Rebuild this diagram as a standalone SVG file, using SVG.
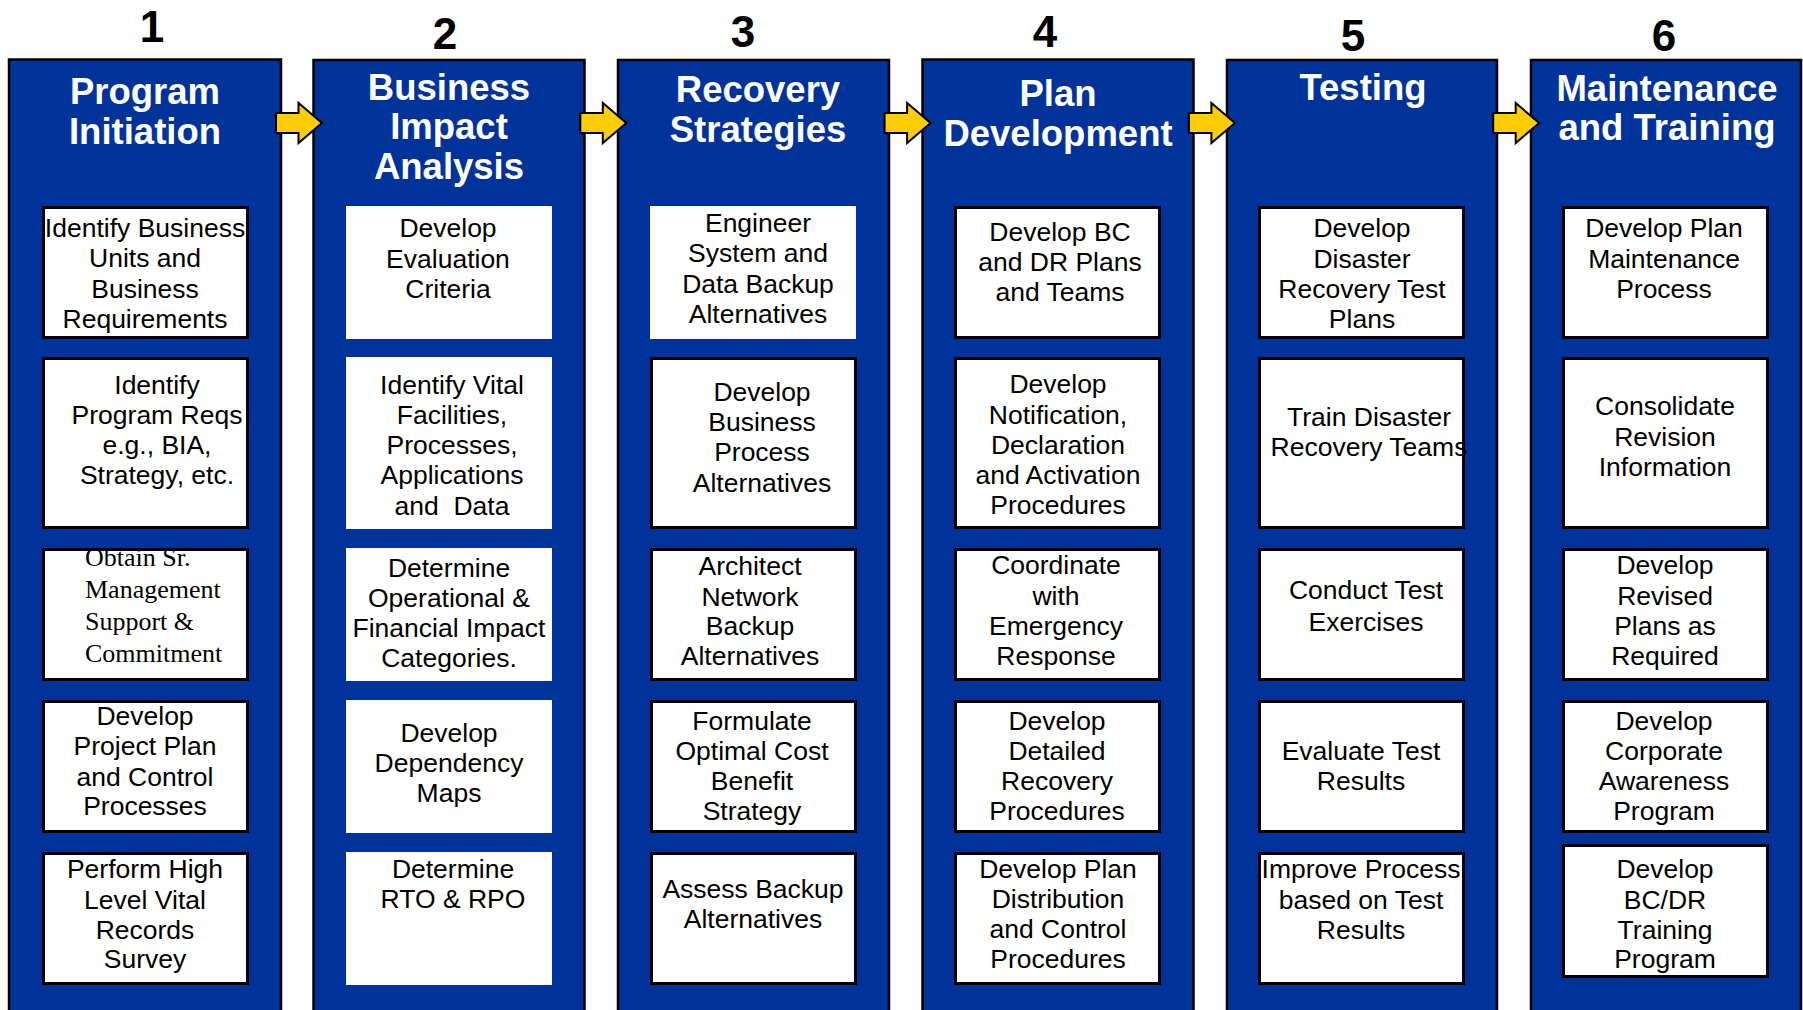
<svg xmlns="http://www.w3.org/2000/svg" width="1803" height="1010" viewBox="0 0 1803 1010">
<style>
.col{fill:#003399;stroke:#000;stroke-width:2.5}
.box{fill:#fff;stroke:#000;stroke-width:3}
.boxn{fill:#fff;stroke:none}
.num{font-family:"Liberation Sans",Arial,sans-serif;font-weight:bold;font-size:44px;fill:#000;text-anchor:middle}
.ttl{font-family:"Liberation Sans",Arial,sans-serif;font-weight:bold;font-size:36.5px;fill:#fff;text-anchor:middle}
.t{font-family:"Liberation Sans",Arial,sans-serif;font-size:26.5px;fill:#000;text-anchor:middle}
.ts{font-family:"Liberation Serif","Times New Roman",serif;font-size:26px;fill:#000}
.arr{fill:#FFCC00;stroke:#000;stroke-width:2;stroke-linejoin:miter}
</style>
<rect width="1803" height="1010" fill="#fff"/>

<g id="col1">
<text class="num" x="152" y="42">1</text>
<rect class="col" x="9" y="59.5" width="272" height="970"/>
<text class="ttl" x="145" y="104">Program</text>
<text class="ttl" x="145" y="144">Initiation</text>
<g id="c1b1"><rect class="box" x="43.5" y="207.5" width="204" height="130"/>
<text class="t" x="145" y="237">Identify Business</text><text class="t" x="145" y="267">Units and</text><text class="t" x="145" y="298">Business</text><text class="t" x="145" y="328">Requirements</text></g>
<g id="c1b2"><rect class="box" x="43.5" y="358.5" width="204" height="169"/>
<text class="t" x="157" y="394">Identify</text><text class="t" x="157" y="424">Program Reqs</text><text class="t" x="157" y="454">e.g., BIA,</text><text class="t" x="157" y="484">Strategy, etc.</text></g>
<g id="c1b3"><rect class="box" x="43.5" y="549.5" width="204" height="130"/>
<text class="ts" x="85" y="566">Obtain Sr.</text><text class="ts" x="85" y="598">Management</text><text class="ts" x="85" y="630">Support &amp;</text><text class="ts" x="85" y="662">Commitment</text></g>
<g id="c1b4"><rect class="box" x="43.5" y="701.5" width="204" height="130"/>
<text class="t" x="145" y="725">Develop</text><text class="t" x="145" y="755">Project Plan</text><text class="t" x="145" y="786">and Control</text><text class="t" x="145" y="815">Processes</text></g>
<g id="c1b5"><rect class="box" x="43.5" y="853.5" width="204" height="130"/>
<text class="t" x="145" y="878">Perform High</text><text class="t" x="145" y="909">Level Vital</text><text class="t" x="145" y="939">Records</text><text class="t" x="145" y="968">Survey</text></g>
</g>

<g id="col2">
<text class="num" x="445" y="49">2</text>
<rect class="col" x="313.5" y="60" width="271" height="970"/>
<text class="ttl" x="449" y="100">Business</text>
<text class="ttl" x="449" y="139">Impact</text>
<text class="ttl" x="449" y="179">Analysis</text>
<g id="c2b1"><rect class="boxn" x="346" y="206" width="206" height="133"/>
<text class="t" x="448" y="237">Develop</text><text class="t" x="448" y="268">Evaluation</text><text class="t" x="448" y="298">Criteria</text></g>
<g id="c2b2"><rect class="boxn" x="346" y="357" width="206" height="172"/>
<text class="t" x="452" y="394">Identify Vital</text><text class="t" x="452" y="424">Facilities,</text><text class="t" x="452" y="454">Processes,</text><text class="t" x="452" y="484">Applications</text><text class="t" x="452" y="515" xml:space="preserve">and  Data</text></g>
<g id="c2b3"><rect class="boxn" x="346" y="548" width="206" height="133"/>
<text class="t" x="449" y="577">Determine</text><text class="t" x="449" y="607">Operational &amp;</text><text class="t" x="449" y="637">Financial Impact</text><text class="t" x="449" y="667">Categories.</text></g>
<g id="c2b4"><rect class="boxn" x="346" y="700" width="206" height="133"/>
<text class="t" x="449" y="742">Develop</text><text class="t" x="449" y="772">Dependency</text><text class="t" x="449" y="802">Maps</text></g>
<g id="c2b5"><rect class="boxn" x="346" y="852" width="206" height="133"/>
<text class="t" x="453" y="878">Determine</text><text class="t" x="453" y="908">RTO &amp; RPO</text></g>
</g>

<g id="col3">
<text class="num" x="743" y="47">3</text>
<rect class="col" x="618" y="60" width="271" height="970"/>
<text class="ttl" x="758" y="102">Recovery</text>
<text class="ttl" x="758" y="142">Strategies</text>
<g id="c3b1"><rect class="boxn" x="650" y="206" width="206" height="133"/>
<text class="t" x="758" y="232">Engineer</text><text class="t" x="758" y="262">System and</text><text class="t" x="758" y="293">Data Backup</text><text class="t" x="758" y="323">Alternatives</text></g>
<g id="c3b2"><rect class="box" x="651.5" y="358.5" width="204" height="169"/>
<text class="t" x="762" y="401">Develop</text><text class="t" x="762" y="431">Business</text><text class="t" x="762" y="461">Process</text><text class="t" x="762" y="492">Alternatives</text></g>
<g id="c3b3"><rect class="box" x="651.5" y="549.5" width="204" height="130"/>
<text class="t" x="750" y="575">Architect</text><text class="t" x="750" y="606">Network</text><text class="t" x="750" y="635">Backup</text><text class="t" x="750" y="665">Alternatives</text></g>
<g id="c3b4"><rect class="box" x="651.5" y="701.5" width="204" height="130"/>
<text class="t" x="752" y="730">Formulate</text><text class="t" x="752" y="760">Optimal Cost</text><text class="t" x="752" y="790">Benefit</text><text class="t" x="752" y="820">Strategy</text></g>
<g id="c3b5"><rect class="box" x="651.5" y="853.5" width="204" height="130"/>
<text class="t" x="753" y="898">Assess Backup</text><text class="t" x="753" y="928">Alternatives</text></g>
</g>

<g id="col4">
<text class="num" x="1045" y="47">4</text>
<rect class="col" x="922.5" y="59.5" width="271" height="970"/>
<text class="ttl" x="1058" y="106">Plan</text>
<text class="ttl" x="1058" y="146">Development</text>
<g id="c4b1"><rect class="box" x="955.5" y="207.5" width="204" height="130"/>
<text class="t" x="1060" y="241">Develop BC</text><text class="t" x="1060" y="271">and DR Plans</text><text class="t" x="1060" y="301">and Teams</text></g>
<g id="c4b2"><rect class="box" x="955.5" y="358.5" width="204" height="169"/>
<text class="t" x="1058" y="393">Develop</text><text class="t" x="1058" y="424">Notification,</text><text class="t" x="1058" y="454">Declaration</text><text class="t" x="1058" y="484">and Activation</text><text class="t" x="1058" y="514">Procedures</text></g>
<g id="c4b3"><rect class="box" x="955.5" y="549.5" width="204" height="130"/>
<text class="t" x="1056" y="574">Coordinate</text><text class="t" x="1056" y="605">with</text><text class="t" x="1056" y="635">Emergency</text><text class="t" x="1056" y="665">Response</text></g>
<g id="c4b4"><rect class="box" x="955.5" y="701.5" width="204" height="130"/>
<text class="t" x="1057" y="730">Develop</text><text class="t" x="1057" y="760">Detailed</text><text class="t" x="1057" y="790">Recovery</text><text class="t" x="1057" y="820">Procedures</text></g>
<g id="c4b5"><rect class="box" x="955.5" y="853.5" width="204" height="130"/>
<text class="t" x="1058" y="878">Develop Plan</text><text class="t" x="1058" y="908">Distribution</text><text class="t" x="1058" y="938">and Control</text><text class="t" x="1058" y="968">Procedures</text></g>
</g>

<g id="col5">
<text class="num" x="1353" y="51">5</text>
<rect class="col" x="1227" y="60" width="270" height="970"/>
<text class="ttl" x="1363" y="100">Testing</text>
<g id="c5b1"><rect class="box" x="1259.5" y="207.5" width="204" height="130"/>
<text class="t" x="1362" y="237">Develop</text><text class="t" x="1362" y="268">Disaster</text><text class="t" x="1362" y="298">Recovery Test</text><text class="t" x="1362" y="328">Plans</text></g>
<g id="c5b2"><rect class="box" x="1259.5" y="358.5" width="204" height="169"/>
<text class="t" x="1369" y="426">Train Disaster</text><text class="t" x="1369" y="456">Recovery Teams</text></g>
<g id="c5b3"><rect class="box" x="1259.5" y="549.5" width="204" height="130"/>
<text class="t" x="1366" y="599">Conduct Test</text><text class="t" x="1366" y="631">Exercises</text></g>
<g id="c5b4"><rect class="box" x="1259.5" y="701.5" width="204" height="130"/>
<text class="t" x="1361" y="760">Evaluate Test</text><text class="t" x="1361" y="790">Results</text></g>
<g id="c5b5"><rect class="box" x="1259.5" y="853.5" width="204" height="130"/>
<text class="t" x="1361" y="878">Improve Process</text><text class="t" x="1361" y="909">based on Test</text><text class="t" x="1361" y="939">Results</text></g>
</g>

<g id="col6">
<text class="num" x="1664" y="51">6</text>
<rect class="col" x="1531" y="60" width="270" height="970"/>
<text class="ttl" x="1667" y="101">Maintenance</text>
<text class="ttl" x="1667" y="140">and Training</text>
<g id="c6b1"><rect class="box" x="1563.5" y="207.5" width="204" height="130"/>
<text class="t" x="1664" y="237">Develop Plan</text><text class="t" x="1664" y="268">Maintenance</text><text class="t" x="1664" y="298">Process</text></g>
<g id="c6b2"><rect class="box" x="1563.5" y="358.5" width="204" height="169"/>
<text class="t" x="1665" y="415">Consolidate</text><text class="t" x="1665" y="446">Revision</text><text class="t" x="1665" y="476">Information</text></g>
<g id="c6b3"><rect class="box" x="1563.5" y="549.5" width="204" height="130"/>
<text class="t" x="1665" y="574">Develop</text><text class="t" x="1665" y="605">Revised</text><text class="t" x="1665" y="635">Plans as</text><text class="t" x="1665" y="665">Required</text></g>
<g id="c6b4"><rect class="box" x="1563.5" y="701.5" width="204" height="130"/>
<text class="t" x="1664" y="730">Develop</text><text class="t" x="1664" y="760">Corporate</text><text class="t" x="1664" y="790">Awareness</text><text class="t" x="1664" y="820">Program</text></g>
<g id="c6b5"><rect class="box" x="1563.5" y="845.5" width="204" height="131"/>
<text class="t" x="1665" y="878">Develop</text><text class="t" x="1665" y="909">BC/DR</text><text class="t" x="1665" y="939">Training</text><text class="t" x="1665" y="968">Program</text></g>
</g>

<g id="connectors">
<polygon class="arr" points="276,113 298.5,113 298.5,103 322,123 298.5,143 298.5,133 276,133"/>
<polygon class="arr" points="580.3,113 602.8,113 602.8,103 626.3,123 602.8,143 602.8,133 580.3,133"/>
<polygon class="arr" points="884.6,113 907.1,113 907.1,103 930.6,123 907.1,143 907.1,133 884.6,133"/>
<polygon class="arr" points="1188.9,113 1211.4,113 1211.4,103 1234.9,123 1211.4,143 1211.4,133 1188.9,133"/>
<polygon class="arr" points="1493.2,113 1515.7,113 1515.7,103 1539.2,123 1515.7,143 1515.7,133 1493.2,133"/>
</g>
</svg>
